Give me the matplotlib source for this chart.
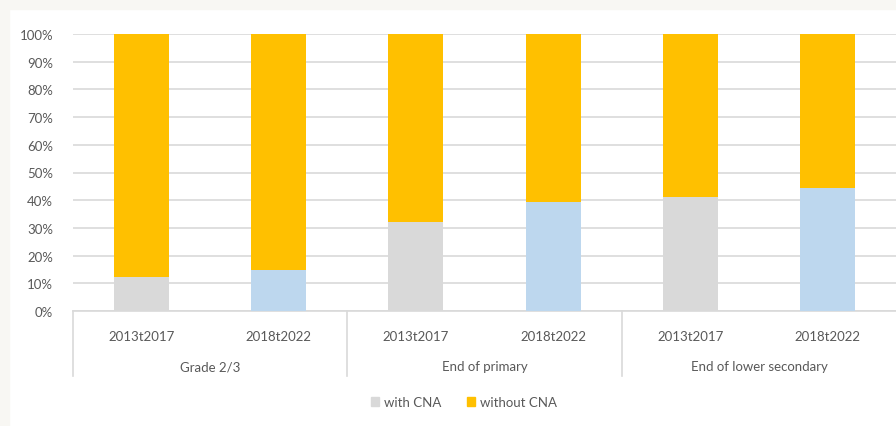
import matplotlib
matplotlib.use("Agg")
import matplotlib.pyplot as plt
from matplotlib.patches import Patch, Rectangle
import matplotlib.transforms as mtransforms

plt.rcParams['font.family'] = ['Lato', 'DejaVu Sans']

periods = ["2013t2017", "2018t2022", "2013t2017", "2018t2022", "2013t2017", "2018t2022"]
groups = ["Grade 2/3", "End of primary", "End of lower secondary"]
with_cna = [12.4, 14.9, 32.0, 39.2, 41.0, 44.3]
without_cna = [100 - v for v in with_cna]
yticks = [0, 10, 20, 30, 40, 50, 60, 70, 80, 90, 100]

c_gray = "#d9d9d9"
c_blue = "#bdd7ee"
c_orange = "#ffc000"
txt = "#595959"

W, H = 896, 427
fig = plt.figure(figsize=(W / 100, H / 100), dpi=100)
fig.patch.set_facecolor("white")
# off-white frame strips
fig.add_artist(Rectangle((0, 0), 9 / W, 1, transform=fig.transFigure, color="#f8f7f3", zorder=0))
fig.add_artist(Rectangle((0, 1 - 10 / H), 1, 10 / H, transform=fig.transFigure, color="#f8f7f3", zorder=0))

ax = fig.add_axes([72.5 / W, 1 - 312 / H, 1 - 72.5 / W + 0.5 / W, (312 - 35) / H])
x = list(range(len(periods)))
bar_colors = [c_gray if i % 2 == 0 else c_blue for i in x]
ax.bar(x, with_cna, width=0.4, color=bar_colors, zorder=3)
ax.bar(x, without_cna, bottom=with_cna, width=0.4, color=c_orange, zorder=3)

ax.set_xlim(-0.5, 5.5)
ax.set_ylim(0, 100)
ax.set_yticks(yticks)
ax.set_yticklabels([f"{v}%" for v in yticks], color=txt, fontsize=9.5)
ax.yaxis.grid(True, color="#d9d9d9", linewidth=1.2, zorder=0)
ax.tick_params(axis="y", length=0, pad=14)
ax.set_xticks(x)
ax.set_xticklabels(periods, color=txt, fontsize=9.5)
ax.tick_params(axis="x", length=0, pad=14)
for s in ["left", "right", "top"]:
    ax.spines[s].set_visible(False)
ax.spines["bottom"].set_color("#d9d9d9")
ax.spines["bottom"].set_linewidth(1.2)

trans = mtransforms.blended_transform_factory(ax.transData, ax.transAxes)
for b in [-0.5, 1.5, 3.5, 5.5]:
    ax.plot([b, b], [0, -65 / 277], transform=trans, color="#d9d9d9", linewidth=1.2, clip_on=False)
for gi, g in enumerate(groups):
    ax.text(gi * 2 + 0.5, -55 / 277, g, transform=trans, ha="center", va="center", color=txt, fontsize=9.5)

handles = [Patch(color=c_gray, label="with CNA"), Patch(color=c_orange, label="without CNA")]
fig.legend(handles=handles, loc="center", bbox_to_anchor=(464 / W, 1 - 403 / H), ncol=2, frameon=False,
           fontsize=9.5, labelcolor=txt, handlelength=0.6, handleheight=0.6, handletextpad=0.4,
           columnspacing=1.9)

fig.savefig("out.png", dpi=100, facecolor=fig.get_facecolor())
